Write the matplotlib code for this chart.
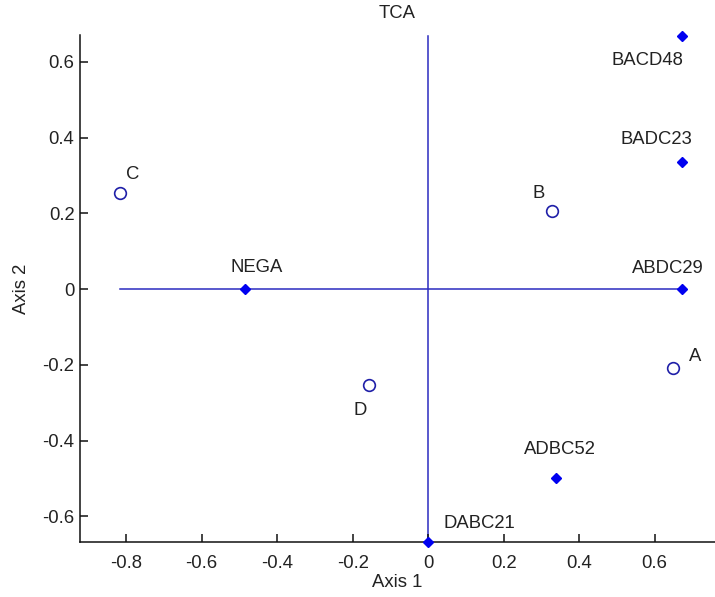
import matplotlib
matplotlib.use("Agg")
import matplotlib.pyplot as plt
import numpy as np
from matplotlib.ticker import FuncFormatter

# category points (open circles)
cat_names = ["A", "B", "C", "D"]
cat_x = [0.649, 0.328, -0.816, -0.156]
cat_y = [-0.209, 0.206, 0.254, -0.254]

# sample points (filled diamonds)
smp_names = ["BACD48", "BADC23", "ABDC29", "NEGA", "ADBC52", "DABC21"]
smp_x = [0.673, 0.673, 0.673, -0.485, 0.339, 0.0]
smp_y = [0.668, 0.336, 0.0, 0.0, -0.499, -0.668]

x_ticks = [-0.8, -0.6, -0.4, -0.2, 0, 0.2, 0.4, 0.6]
y_ticks = [-0.6, -0.4, -0.2, 0, 0.2, 0.4, 0.6]

# label offsets in pixels (dx, dy, horizontal alignment)
label_pos = {
    "A": (16, 12, "left"), "B": (-13, 18, "center"), "C": (6, 18, "left"),
    "D": (-9, -25, "center"), "BACD48": (1, -24, "right"), "BADC23": (-26, 22, "center"),
    "ABDC29": (-14, 21, "center"), "NEGA": (12, 22, "center"),
    "ADBC52": (4, 29, "center"), "DABC21": (15, 18, "left"),
}

plt.rcParams['font.family'] = ['Liberation Sans', 'DejaVu Sans']
fs = 13.3
txt = '#222222'

fig = plt.figure(figsize=(7.15, 5.97), dpi=100)
ax = fig.add_axes([80 / 715, 55 / 597, 635 / 715, 507 / 597])

all_x = cat_x + smp_x
all_y = cat_y + smp_y
ax.plot([min(all_x), max(all_x)], [0, 0], color='#2b2bc0', lw=1.1, zorder=1)
ax.plot([0, 0], [min(all_y), max(all_y)], color='#2b2bc0', lw=1.1, zorder=1)

ax.plot(cat_x, cat_y, 'o', ls='none', ms=8.4, mfc='white', mec='#1f1fa8', mew=1.2, zorder=3)
ax.plot(smp_x, smp_y, 'D', ls='none', ms=5, mfc='#0000f0', mec='#0000f0', zorder=3, clip_on=False)

for names, xs, ys in [(cat_names, cat_x, cat_y), (smp_names, smp_x, smp_y)]:
    for n, x, y in zip(names, xs, ys):
        dx, dy, ha = label_pos[n]
        ax.annotate(n, (x, y), xytext=(dx, dy), textcoords='offset pixels',
                    ha=ha, va='center', fontsize=fs, color=txt)

ax.set_xlim(-0.922, 0.76)
ax.set_ylim(-0.668, 0.671)
ax.set_xticks(x_ticks)
ax.set_yticks(y_ticks)
fmt = FuncFormatter(lambda v, p: '%g' % round(v, 2))
ax.xaxis.set_major_formatter(fmt)
ax.yaxis.set_major_formatter(fmt)

for s in ['top', 'right']:
    ax.spines[s].set_visible(False)
for s in ['left', 'bottom']:
    ax.spines[s].set_color('#111111')
    ax.spines[s].set_linewidth(1.1)
ax.tick_params(axis='both', direction='in', length=5.5, width=1.1, colors='#111111',
               labelcolor=txt, labelsize=fs)
ax.tick_params(axis='x', pad=9)
ax.tick_params(axis='y', pad=4)

ax.set_title('TCA', fontsize=fs, color=txt, pad=12)
ax.set_xlabel('Axis 1', fontsize=fs, color=txt, labelpad=2)
ax.set_ylabel('Axis 2', fontsize=fs, color=txt, labelpad=9)

fig.savefig('out.png', dpi=100)
